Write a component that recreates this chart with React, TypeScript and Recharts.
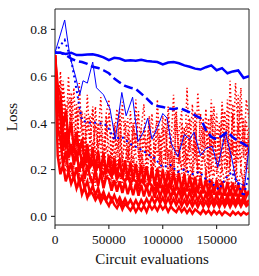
import React from 'react';
import { LineChart, Line, XAxis, YAxis, ReferenceArea } from 'recharts';

// circuit evaluations (x) for the red runs
const evalsFine = [
  0, 2500, 5000, 7500, 10000, 12500, 15000, 17500, 20000, 22500,
  25000, 27500, 30000, 32500, 35000, 37500, 40000, 42500, 45000, 47500,
  50000, 52500, 55000, 57500, 60000, 62500, 65000, 67500, 70000, 72500,
  75000, 77500, 80000, 82500, 85000, 87500, 90000, 92500, 95000, 97500,
  100000, 102500, 105000, 107500, 110000, 112500, 115000, 117500, 120000, 122500,
  125000, 127500, 130000, 132500, 135000, 137500, 140000, 142500, 145000, 147500,
  150000, 152500, 155000, 157500, 160000, 162500, 165000, 167500, 170000, 172500,
  175000, 177500, 180000,
];

const evalsCoarse = [
  0, 5000, 10000, 15000, 20000, 25000, 30000, 35000, 40000, 45000,
  50000, 55000, 60000, 65000, 70000, 75000, 80000, 85000, 90000, 95000,
  100000, 105000, 110000, 115000, 120000, 125000, 130000, 135000, 140000, 145000,
  150000, 155000, 160000, 165000, 170000, 175000, 180000,
];

// red solid runs
const redLowest = [
  0.69, 0.26, 0.18, 0.22, 0.15, 0.19, 0.14, 0.17, 0.12, 0.155,
  0.095, 0.125, 0.08, 0.11, 0.095, 0.07, 0.09, 0.06, 0.085, 0.065,
  0.045, 0.075, 0.05, 0.035, 0.06, 0.03, 0.055, 0.04, 0.025, 0.045,
  0.02, 0.04, 0.025, 0.045, 0.02, 0.05, 0.03, 0.045, 0.025, 0.05,
  0.03, 0.045, 0.02, 0.042, 0.028, 0.018, 0.04, 0.02, 0.035, 0.015,
  0.032, 0.012, 0.03, 0.02, 0.01, 0.028, 0.012, 0.025, 0.008, 0.024,
  0.01, 0.022, 0.006, 0.02, 0.012, 0.004, 0.02, 0.008, 0.018, 0.005,
  0.018, 0.008, 0.015,
];
const redLow = [
  0.69, 0.38, 0.33, 0.22, 0.28, 0.19, 0.23, 0.16, 0.21, 0.14,
  0.17, 0.12, 0.15, 0.10, 0.13, 0.09, 0.12, 0.08, 0.105, 0.07,
  0.095, 0.065, 0.09, 0.06, 0.08, 0.052, 0.075, 0.05, 0.07, 0.045,
  0.068, 0.044, 0.07, 0.05, 0.075, 0.052, 0.08, 0.055, 0.082, 0.056,
  0.08, 0.052, 0.078, 0.05, 0.074, 0.048, 0.072, 0.045, 0.07, 0.046,
  0.068, 0.042, 0.066, 0.04, 0.065, 0.042, 0.064, 0.04, 0.066, 0.042,
  0.064, 0.04, 0.065, 0.042, 0.066, 0.04, 0.064, 0.043, 0.066, 0.042,
  0.065, 0.044, 0.055,
];
const redBand = [
  0.69, 0.48, 0.42, 0.28, 0.36, 0.25, 0.31, 0.22, 0.28, 0.19,
  0.25, 0.16, 0.22, 0.17, 0.14, 0.20, 0.13, 0.19, 0.12, 0.17,
  0.16, 0.11, 0.155, 0.105, 0.15, 0.10, 0.145, 0.095, 0.14, 0.09,
  0.14, 0.088, 0.135, 0.085, 0.13, 0.085, 0.132, 0.08, 0.128, 0.082,
  0.125, 0.08, 0.122, 0.078, 0.12, 0.075, 0.115, 0.072, 0.112, 0.07,
  0.108, 0.066, 0.105, 0.064, 0.10, 0.062, 0.098, 0.06, 0.096, 0.058,
  0.095, 0.058, 0.092, 0.056, 0.09, 0.055, 0.09, 0.055, 0.088, 0.054,
  0.088, 0.055, 0.07,
];
const redMid = [
  0.69, 0.56, 0.52, 0.38, 0.45, 0.33, 0.40, 0.29, 0.36, 0.27,
  0.33, 0.23, 0.31, 0.21, 0.29, 0.20, 0.28, 0.19, 0.27, 0.18,
  0.26, 0.17, 0.25, 0.165, 0.245, 0.16, 0.24, 0.155, 0.23, 0.15,
  0.225, 0.145, 0.22, 0.14, 0.215, 0.135, 0.21, 0.13, 0.205, 0.125,
  0.20, 0.125, 0.195, 0.12, 0.19, 0.115, 0.185, 0.11, 0.18, 0.108,
  0.175, 0.105, 0.17, 0.10, 0.165, 0.098, 0.16, 0.095, 0.158, 0.092,
  0.155, 0.09, 0.15, 0.088, 0.148, 0.086, 0.145, 0.085, 0.142, 0.084,
  0.14, 0.085, 0.11,
];
const redMid2 = [
  0.69, 0.52, 0.45, 0.36, 0.30, 0.33, 0.27, 0.30, 0.25, 0.28,
  0.24, 0.22, 0.26, 0.21, 0.23, 0.19, 0.22, 0.20, 0.18, 0.21,
  0.19, 0.17, 0.20, 0.16, 0.18, 0.165, 0.15, 0.175, 0.14, 0.16,
  0.15, 0.13, 0.155, 0.14, 0.12, 0.145, 0.13, 0.115, 0.14, 0.125,
  0.13, 0.11, 0.135, 0.12, 0.105, 0.125, 0.115, 0.10, 0.12, 0.11,
  0.115, 0.10, 0.12, 0.105, 0.095, 0.115, 0.10, 0.09, 0.11, 0.10,
  0.095, 0.11, 0.09, 0.10, 0.085, 0.105, 0.09, 0.10, 0.085, 0.095,
  0.09, 0.10, 0.095,
];

// red dotted runs
const redDotHigh = [
  0.69, 0.40, 0.62, 0.45, 0.33, 0.60, 0.36, 0.55, 0.30, 0.57,
  0.34, 0.28, 0.52, 0.30, 0.47, 0.26, 0.35, 0.51, 0.27, 0.44,
  0.50, 0.25, 0.33, 0.46, 0.24, 0.49, 0.30, 0.23, 0.45, 0.28,
  0.50, 0.24, 0.38, 0.48, 0.22, 0.31, 0.44, 0.23, 0.50, 0.27,
  0.43, 0.22, 0.47, 0.30, 0.52, 0.23, 0.36, 0.45, 0.21, 0.55,
  0.28, 0.48, 0.23, 0.53, 0.32, 0.24, 0.46, 0.21, 0.50, 0.30,
  0.44, 0.25, 0.49, 0.34, 0.22, 0.58, 0.26, 0.57, 0.36, 0.55,
  0.25, 0.50, 0.42,
];
const redDotMid = [
  0.69, 0.55, 0.30, 0.58, 0.42, 0.26, 0.50, 0.23, 0.46, 0.34,
  0.22, 0.44, 0.20, 0.31, 0.46, 0.18, 0.40, 0.28, 0.17, 0.43,
  0.19, 0.30, 0.38, 0.16, 0.42, 0.24, 0.18, 0.36, 0.15, 0.40,
  0.26, 0.17, 0.38, 0.14, 0.31, 0.40, 0.16, 0.25, 0.37, 0.15,
  0.33, 0.42, 0.18, 0.28, 0.16, 0.44, 0.22, 0.36, 0.15, 0.40,
  0.24, 0.18, 0.45, 0.17, 0.30, 0.42, 0.15, 0.36, 0.26, 0.47,
  0.18, 0.32, 0.40, 0.20, 0.50, 0.25, 0.44, 0.17, 0.52, 0.30,
  0.42, 0.20, 0.38,
];
const redDotLow = [
  0.69, 0.48, 0.26, 0.40, 0.22, 0.36, 0.44, 0.20, 0.33, 0.18,
  0.30, 0.34, 0.17, 0.25, 0.32, 0.15, 0.28, 0.21, 0.14, 0.30,
  0.24, 0.13, 0.29, 0.19, 0.27, 0.12, 0.22, 0.30, 0.13, 0.26,
  0.18, 0.11, 0.27, 0.21, 0.12, 0.30, 0.16, 0.25, 0.10, 0.28,
  0.20, 0.12, 0.29, 0.15, 0.26, 0.11, 0.30, 0.19, 0.12, 0.27,
  0.22, 0.10, 0.31, 0.16, 0.12, 0.27, 0.20, 0.11, 0.33, 0.17,
  0.26, 0.12, 0.30, 0.35, 0.14, 0.24, 0.32, 0.12, 0.38, 0.20,
  0.13, 0.34, 0.25,
];
const redDotUpper = [
  0.69, 0.52, 0.58, 0.35, 0.48, 0.30, 0.53, 0.40, 0.27, 0.46,
  0.38, 0.25, 0.42, 0.31, 0.23, 0.39, 0.28, 0.36, 0.21, 0.40,
  0.30, 0.22, 0.38, 0.26, 0.35, 0.20, 0.41, 0.24, 0.33, 0.19,
  0.36, 0.28, 0.18, 0.34, 0.24, 0.37, 0.17, 0.31, 0.26, 0.35,
  0.19, 0.37, 0.25, 0.33, 0.17, 0.41, 0.28, 0.20, 0.38, 0.24,
  0.34, 0.18, 0.40, 0.27, 0.17, 0.38, 0.29, 0.42, 0.20, 0.35,
  0.24, 0.40, 0.19, 0.45, 0.30, 0.22, 0.43, 0.27, 0.40, 0.21,
  0.38, 0.26, 0.33,
];
const redDotLower = [
  0.69, 0.36, 0.22, 0.31, 0.19, 0.27, 0.17, 0.24, 0.29, 0.16,
  0.22, 0.15, 0.26, 0.14, 0.20, 0.13, 0.24, 0.18, 0.12, 0.21,
  0.15, 0.11, 0.23, 0.13, 0.19, 0.10, 0.17, 0.22, 0.11, 0.16,
  0.20, 0.10, 0.15, 0.22, 0.11, 0.18, 0.13, 0.09, 0.21, 0.14,
  0.10, 0.19, 0.13, 0.22, 0.09, 0.16, 0.20, 0.11, 0.15, 0.21,
  0.12, 0.18, 0.09, 0.23, 0.14, 0.10, 0.20, 0.13, 0.22, 0.11,
  0.17, 0.10, 0.21, 0.14, 0.24, 0.11, 0.19, 0.26, 0.12, 0.20,
  0.14, 0.23, 0.18,
];
const redDotExtra = [
  0.69, 0.47, 0.35, 0.56, 0.29, 0.50, 0.41, 0.26, 0.48, 0.31,
  0.45, 0.24, 0.38, 0.43, 0.22, 0.47, 0.29, 0.41, 0.23, 0.36,
  0.44, 0.21, 0.40, 0.29, 0.46, 0.22, 0.35, 0.42, 0.20, 0.39,
  0.31, 0.45, 0.21, 0.38, 0.27, 0.43, 0.19, 0.36, 0.41, 0.22,
  0.38, 0.25, 0.43, 0.20, 0.35, 0.46, 0.23, 0.40, 0.31, 0.19,
  0.42, 0.27, 0.35, 0.20, 0.44, 0.29, 0.39, 0.18, 0.43, 0.24,
  0.37, 0.21, 0.46, 0.31, 0.40, 0.19, 0.48, 0.33, 0.23, 0.47,
  0.30, 0.41, 0.28,
];

// blue runs
const blueSolid = [
  0.70, 0.70, 0.695, 0.70, 0.69, 0.69, 0.692, 0.693, 0.688, 0.68,
  0.668, 0.678, 0.675, 0.666, 0.668, 0.666, 0.67, 0.665, 0.662, 0.66,
  0.65, 0.658, 0.66, 0.655, 0.646, 0.64, 0.632, 0.628, 0.638, 0.646,
  0.625, 0.634, 0.612, 0.62, 0.624, 0.592, 0.60,
];
const blueDashed = [
  0.70, 0.70, 0.69, 0.675, 0.665, 0.66, 0.652, 0.64, 0.635, 0.625,
  0.612, 0.59, 0.573, 0.558, 0.55, 0.545, 0.525, 0.505, 0.482, 0.472,
  0.468, 0.462, 0.458, 0.464, 0.455, 0.445, 0.432, 0.42, 0.37, 0.34,
  0.33, 0.345, 0.362, 0.338, 0.322, 0.31, 0.295,
];
const thinEvals = [
  0, 9000, 14000, 19000, 23000, 26000, 30000, 35000, 38500,
  45000, 51000, 56000, 62000, 66000, 72000, 77000, 82000, 86000, 90000,
  95000, 100000, 104000, 108000, 114000, 120000, 125000, 129000, 135000, 140000,
  146000, 151000, 158000, 164000, 168000, 172000, 176000, 180000,
];
const blueThin = [
  0.70, 0.84, 0.68, 0.60, 0.52, 0.58, 0.57, 0.66, 0.55,
  0.52, 0.46, 0.33, 0.53, 0.43, 0.51, 0.32, 0.36, 0.42, 0.33,
  0.38, 0.44, 0.42, 0.31, 0.255, 0.35, 0.33, 0.36, 0.26, 0.29,
  0.30, 0.21, 0.36, 0.25, 0.15, 0.14, 0.13, 0.30,
];
const dottedEvals = [
  0, 9000, 15000, 20000, 25000, 32000, 40000, 48000, 55000, 62000,
  70000, 78000, 85000, 92000, 100000, 107000, 114000, 120000, 127000, 134000,
  140000, 146000, 152000, 158000, 164000, 170000, 175000, 180000,
];
const blueDotted = [
  0.70, 0.755, 0.67, 0.54, 0.41, 0.40, 0.40, 0.39, 0.33, 0.34,
  0.31, 0.29, 0.27, 0.25, 0.21, 0.22, 0.19, 0.20, 0.18, 0.19,
  0.16, 0.14, 0.115, 0.16, 0.19, 0.14, 0.085, 0.18,
];

const xTicks = [0, 50000, 100000, 150000];
const yTicks = [0, 0.2, 0.4, 0.6, 0.8];

const pts = (xs: number[], ys: number[]) => xs.map((x, i) => ({ x, y: ys[i] }));

const RED = '#ff0000';
const BLUE = '#0000ff';
const font = "'Liberation Serif', 'Times New Roman', serif";

const App: React.FC = () => {
  const redSolids = [redLowest, redLow, redBand, redMid, redMid2];
  const redDots = [redDotHigh, redDotMid, redDotLow, redDotUpper, redDotLower, redDotExtra];

  return (
    <div style={{ position: 'absolute', left: 0, top: 0, background: '#fff' }}>
      <LineChart width={259} height={276} margin={{ top: 9, right: 10, bottom: 0, left: 0 }}>
        <XAxis
          type="number"
          dataKey="x"
          domain={[0, 180000]}
          ticks={xTicks}
          allowDataOverflow
          axisLine={false}
          tickLine={{ stroke: '#111' }}
          tickSize={4}
          tickMargin={5}
          height={51}
          tick={{ fill: '#111', fontSize: 13.5, fontFamily: font }}
          label={{ value: 'Circuit evaluations', position: 'insideBottom', offset: 12, fill: '#111', fontSize: 15, fontFamily: font }}
        />
        <YAxis
          type="number"
          dataKey="y"
          domain={[-0.037, 0.887]}
          ticks={yTicks}
          allowDataOverflow
          axisLine={false}
          tickLine={{ stroke: '#111' }}
          tickSize={4}
          tickMargin={4}
          width={55}
          tickFormatter={(v: number) => v.toFixed(1)}
          tick={{ fill: '#111', fontSize: 13.5, fontFamily: font }}
          label={{ value: 'Loss', angle: -90, position: 'insideLeft', offset: 12, fill: '#111', fontSize: 15, fontFamily: font, style: { textAnchor: 'middle' } }}
        />
        {redSolids.map((ys, i) => (
          <Line
            key={`rs${i}`}
            data={pts(evalsFine, ys)}
            dataKey="y"
            stroke={RED}
            strokeWidth={2.5}
            dot={false}
            isAnimationActive={false}
          />
        ))}
        {redDots.map((ys, i) => (
          <Line
            key={`rd${i}`}
            data={pts(evalsFine, ys)}
            dataKey="y"
            stroke={RED}
            strokeWidth={1.5}
            strokeDasharray="1.5 2.5"
            dot={false}
            isAnimationActive={false}
          />
        ))}
        <Line data={pts(dottedEvals, blueDotted)} dataKey="y" stroke={BLUE} strokeWidth={2} strokeDasharray="2 3.3" dot={false} isAnimationActive={false} />
        <Line data={pts(thinEvals, blueThin)} dataKey="y" stroke={BLUE} strokeWidth={1} dot={false} isAnimationActive={false} />
        <Line data={pts(evalsCoarse, blueDashed)} dataKey="y" stroke={BLUE} strokeWidth={2.5} strokeDasharray="9 4" dot={false} isAnimationActive={false} />
        <Line data={pts(evalsCoarse, blueSolid)} dataKey="y" stroke={BLUE} strokeWidth={2.5} dot={false} isAnimationActive={false} />
        <ReferenceArea x1={0} x2={180000} y1={-0.037} y2={0.887} fill="none" stroke="#222" strokeWidth={1} />
      </LineChart>
    </div>
  );
};

export default App;
